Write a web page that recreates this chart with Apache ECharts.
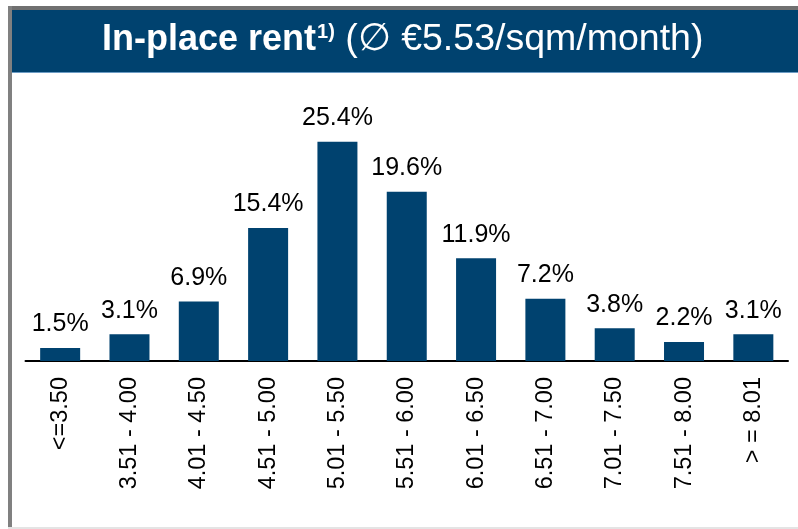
<!DOCTYPE html>
<html>
<head>
<meta charset="utf-8">
<script src="https://cdn.jsdelivr.net/npm/echarts@6/dist/echarts.min.js"></script>
<style>
  html, body { margin: 0; padding: 0; background: #fff; }
  #chart { width: 798px; height: 529px; }
</style>
</head>
<body>
<div id="chart"></div>
<script>
// rent bands (€/sqm/month) and share of units
var categories = ['<=3.50', '3.51 - 4.00', '4.01 - 4.50', '4.51 - 5.00', '5.01 - 5.50',
  '5.51 - 6.00', '6.01 - 6.50', '6.51 - 7.00', '7.01 - 7.50', '7.51 - 8.00', '> = 8.01'];
var shares = [1.5, 3.1, 6.9, 15.4, 25.4, 19.6, 11.9, 7.2, 3.8, 2.2, 3.1];

var blue = '#00426f';
var font = '"Liberation Sans", Arial, sans-serif';

var chart = echarts.init(document.getElementById('chart'));

var option = {
  animation: false,
  backgroundColor: '#fff',
  graphic: [
    // frame
    { type: 'rect', shape: { x: 8, y: 6, width: 790, height: 4 }, style: { fill: '#707070' } },
    { type: 'rect', shape: { x: 8, y: 6, width: 4, height: 523 }, style: { fill: '#808080' } },
    { type: 'rect', shape: { x: 8, y: 527, width: 790, height: 2 }, style: { fill: '#e4e4e4' } },
    // header band
    { type: 'rect', shape: { x: 12, y: 10, width: 786, height: 62 }, style: { fill: blue } },
    { type: 'rect', shape: { x: 12, y: 72, width: 786, height: 1 }, style: { fill: '#6d9cc4' } }
  ],
  title: {
    text: '{b|In-place rent}{sup|1)}{n| (∅ €5.53/sqm/month)}',
    left: 102,
    top: 21,
    padding: 0,
    textStyle: {
      rich: {
        b: { fontFamily: font, fontSize: 36, fontWeight: 'bold', color: '#fff' },
        sup: { fontFamily: font, fontSize: 20, fontWeight: 'bold', color: '#fff', padding: [0, 0, 16, 1] },
        n: { fontFamily: font, fontSize: 37.5, fontWeight: 'normal', color: '#fff' }
      }
    }
  },
  grid: {
    left: 25.5,
    right: 10,
    top: 102,
    bottom: 168,
    containLabel: false
  },
  xAxis: {
    type: 'category',
    data: categories,
    axisLine: { lineStyle: { color: '#000', width: 2 } },
    axisTick: { show: false },
    axisLabel: {
      rotate: 90,
      interval: 0,
      margin: 16,
      color: '#000',
      fontFamily: font,
      fontSize: 23.5
    }
  },
  yAxis: {
    type: 'value',
    min: 0,
    max: 30,
    show: false,
    splitLine: { show: false }
  },
  series: [
    {
      type: 'bar',
      data: shares,
      barWidth: 40,
      itemStyle: { color: blue },
      label: {
        show: true,
        position: 'top',
        distance: 11,
        color: '#000',
        fontFamily: font,
        fontSize: 25,
        formatter: function (p) { return p.value.toFixed(1) + '%'; }
      }
    }
  ]
};

chart.setOption(option);
</script>
</body>
</html>
